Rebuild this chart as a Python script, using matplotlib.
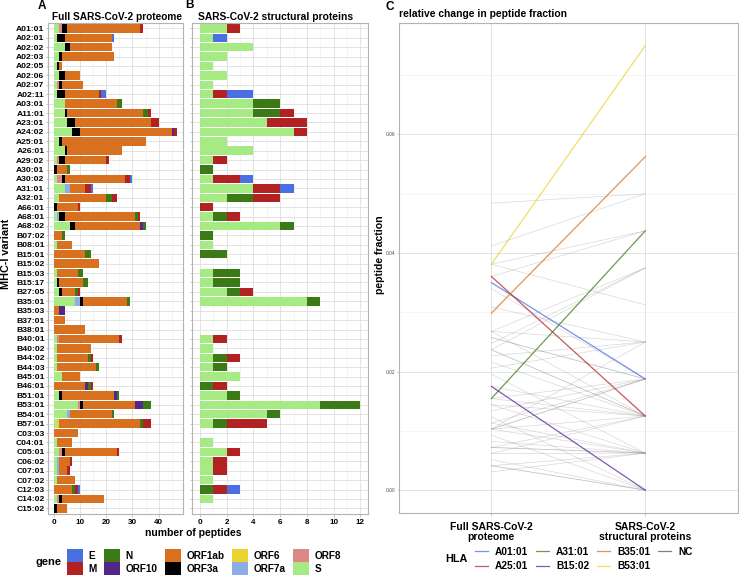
import matplotlib.pyplot as plt
import numpy as np
from matplotlib.patches import Patch
from matplotlib.lines import Line2D

plt.rcParams['font.family'] = ['Liberation Sans', 'DejaVu Sans']

# alelos HLA (orden de arriba hacia abajo)
alleles = ['A01:01', 'A02:01', 'A02:02', 'A02:03', 'A02:05', 'A02:06', 'A02:07', 'A02:11',
           'A03:01', 'A11:01', 'A23:01', 'A24:02', 'A25:01', 'A26:01', 'A29:02', 'A30:01',
           'A30:02', 'A31:01', 'A32:01', 'A66:01', 'A68:01', 'A68:02', 'B07:02', 'B08:01',
           'B15:01', 'B15:02', 'B15:03', 'B15:17', 'B27:05', 'B35:01', 'B35:03', 'B37:01',
           'B38:01', 'B40:01', 'B40:02', 'B44:02', 'B44:03', 'B45:01', 'B46:01', 'B51:01',
           'B53:01', 'B54:01', 'B57:01', 'C03:03', 'C04:01', 'C05:01', 'C06:02', 'C07:01',
           'C07:02', 'C12:03', 'C14:02', 'C15:02']

# número de péptidos por gen
S      = [2, 1, 4, 2, 1, 2, 1, 1, 4, 4, 5, 7, 2, 4, 1, 0, 1, 4, 2, 0, 1, 6, 0, 1, 0, 0,
          1, 1, 2, 8, 0, 0, 0, 1, 1, 1, 1, 3, 0, 2, 9, 5, 1, 0, 1, 2, 1, 1, 1, 0, 1, 0]
ORF8   = [1, 0, 0, 0, 0, 0, 1, 0, 0, 0, 0, 0, 0, 0, 1, 0, 2, 0, 0, 0, 0, 0, 0, 0, 0, 0,
          0, 0, 0, 0, 0, 0, 0, 1, 0, 0, 0, 0, 0, 0, 1, 0, 0, 0, 0, 1, 0, 0, 0, 0, 1, 0]
ORF7a  = [0, 0, 0, 0, 0, 0, 0, 0, 0, 0, 0, 0, 0, 0, 0, 0, 0, 2, 0, 0, 1, 0, 0, 0, 0, 0,
          0, 0, 0, 2, 0, 0, 0, 0, 0, 0, 0, 0, 0, 0, 0, 1, 0, 0, 0, 0, 1, 1, 0, 0, 0, 0]
ORF6   = [0, 0, 0, 0, 0, 0, 0, 0, 0, 0, 0, 0, 0, 0, 0, 0, 0, 0, 0, 0, 0, 0, 0, 0, 0, 0,
          0, 0, 0, 0, 0, 0, 0, 0, 0, 0, 0, 0, 0, 0, 0, 0, 1, 0, 0, 0, 0, 0, 0, 0, 0, 0]
ORF3a  = [2, 3, 2, 1, 1, 2, 1, 3, 0, 1, 3, 3, 1, 1, 2, 1, 1, 0, 0, 1, 2, 2, 0, 0, 0, 0,
          0, 1, 1, 1, 0, 0, 0, 0, 0, 0, 0, 0, 0, 1, 1, 0, 0, 0, 0, 1, 0, 0, 0, 0, 1, 1]
ORF1ab = [28, 18, 16, 20, 1, 6, 8, 13, 20, 29, 29, 35, 32, 21, 16, 4, 23, 6, 18, 8, 27, 25,
          3, 6, 12, 17, 8, 9, 5, 17, 2, 4, 12, 23, 13, 12, 15, 7, 12, 20, 20, 16, 31, 9,
          6, 20, 4, 3, 7, 7, 16, 4]
ORF10  = [0, 0, 0, 0, 0, 0, 0, 0, 0, 0, 0, 1, 0, 0, 0, 0, 0, 0, 0, 0, 0, 1, 0, 0, 0, 0,
          0, 0, 0, 0, 2, 0, 0, 0, 0, 0, 0, 0, 1, 1, 3, 0, 0, 0, 0, 0, 0, 0, 0, 0, 0, 0]
N      = [0, 0, 0, 0, 0, 0, 0, 0, 2, 2, 0, 0, 0, 0, 0, 1, 0, 0, 2, 0, 1, 1, 1, 0, 2, 0,
          2, 2, 1, 1, 0, 0, 0, 0, 0, 1, 1, 0, 1, 1, 3, 1, 1, 0, 0, 0, 0, 0, 0, 1, 0, 0]
M      = [1, 0, 0, 0, 0, 0, 0, 1, 0, 1, 3, 1, 0, 0, 1, 0, 2, 2, 2, 1, 1, 0, 0, 0, 0, 0,
          0, 0, 1, 0, 0, 0, 0, 1, 0, 1, 0, 0, 1, 0, 0, 0, 3, 0, 0, 1, 1, 1, 0, 1, 0, 0]
E      = [0, 1, 0, 0, 0, 0, 0, 2, 0, 0, 0, 0, 0, 0, 0, 0, 1, 1, 0, 0, 0, 0, 0, 0, 0, 0,
          0, 0, 0, 0, 0, 0, 0, 0, 0, 0, 0, 0, 0, 0, 0, 0, 0, 0, 0, 0, 0, 0, 0, 1, 0, 0]

counts = {'S': S, 'ORF8': ORF8, 'ORF7a': ORF7a, 'ORF6': ORF6, 'ORF3a': ORF3a,
          'ORF1ab': ORF1ab, 'ORF10': ORF10, 'N': N, 'M': M, 'E': E}
stack_order = ['S', 'ORF8', 'ORF7a', 'ORF6', 'ORF3a', 'ORF1ab', 'ORF10', 'N', 'M', 'E']
structural = ['S', 'N', 'M', 'E']
legend_genes = ['E', 'M', 'N', 'ORF10', 'ORF1ab', 'ORF3a', 'ORF6', 'ORF7a', 'ORF8', 'S']

gene_colors = {'E': '#4a6fe3', 'M': '#b22222', 'N': '#3b7a17', 'ORF10': '#55268a',
               'ORF1ab': '#d8711f', 'ORF3a': '#000000', 'ORF6': '#ebd431',
               'ORF7a': '#8cade6', 'ORF8': '#dd8888', 'S': '#a6ea84'}

highlight = ['A01:01', 'A25:01', 'A31:01', 'B15:02', 'B35:01', 'B53:01']
highlight_colors = ['#4a6fe3', '#b22222', '#3b7a17', '#55268a', '#d8711f', '#ebd431']

grid_major = '#dedede'
grid_minor = '#eeeeee'
border = '#b3b3b3'

W, H = 739, 579
fig = plt.figure(figsize=(W / 100, H / 100), dpi=100)


def fx(px):
    return px / W


def fy(py):
    return 1 - py / H


def estilo(ax):
    for s in ax.spines.values():
        s.set_color(border)
        s.set_linewidth(0.8)
    ax.set_axisbelow(True)
    ax.grid(which='major', color=grid_major, linewidth=0.6)
    ax.grid(which='minor', color=grid_minor, linewidth=0.4)
    ax.tick_params(which='major', length=1.8, width=0.5, color=border)
    ax.tick_params(which='minor', length=0)


y = np.arange(len(alleles))

# Panel A: proteoma completo
axA = fig.add_axes([fx(48), fy(514), fx(183 - 48), fy(22.7) - fy(514)])
left = np.zeros(len(alleles))
for g in stack_order:
    v = np.array(counts[g])
    axA.barh(y, v, left=left, height=0.9, color=gene_colors[g], linewidth=0)
    left += v
total_full = left.copy()
axA.set_ylim(len(alleles) - 0.4, -0.6)
axA.set_xlim(-2.35, 49.35)
axA.set_xticks([0, 10, 20, 30, 40])
axA.set_xticks([5, 15, 25, 35, 45], minor=True)
axA.set_yticks(y)
axA.set_yticklabels(alleles, fontsize=6.1, fontweight='bold')
estilo(axA)
axA.tick_params(axis='x', labelsize=5.8, pad=1.5)
axA.tick_params(axis='y', pad=0.8)
for t in axA.get_xticklabels():
    t.set_fontweight('bold')

# Panel B: proteínas estructurales
axB = fig.add_axes([fx(192), fy(514), fx(368.3 - 192), fy(22.7) - fy(514)])
left = np.zeros(len(alleles))
for g in stack_order:
    if g not in structural:
        continue
    v = np.array(counts[g])
    axB.barh(y, v, left=left, height=0.9, color=gene_colors[g], linewidth=0)
    left += v
total_struct = left.copy()
axB.set_ylim(len(alleles) - 0.4, -0.6)
axB.set_xlim(-0.6, 12.6)
axB.set_xticks(np.arange(0, 13, 2))
axB.set_xticks(np.arange(1, 13, 2), minor=True)
axB.set_yticks(y)
axB.set_yticklabels([])
estilo(axB)
axB.tick_params(axis='x', labelsize=5.8, pad=1.5)
for t in axB.get_xticklabels():
    t.set_fontweight('bold')

# Panel C: cambio relativo
axC = fig.add_axes([fx(399), fy(512.7), fx(737.7 - 399), fy(23) - fy(512.7)])
frac_full = total_full / total_full.sum()
frac_struct = total_struct / total_struct.sum()
for i, a in enumerate(alleles):
    if a in highlight:
        continue
    axC.plot([1, 2], [frac_full[i], frac_struct[i]], color='#808080', alpha=0.3, linewidth=0.5)
for a, c in zip(highlight, highlight_colors):
    i = alleles.index(a)
    axC.plot([1, 2], [frac_full[i], frac_struct[i]], color=c, alpha=0.75, linewidth=0.9)
axC.set_xlim(0.4, 2.6)
axC.set_ylim(-0.0038, 0.0788)
axC.set_xticks([1, 2])
axC.set_xticklabels(['Full SARS-CoV-2\nproteome', 'SARS-CoV-2\nstructural proteins'],
                    fontsize=7.5, fontweight='bold', linespacing=0.95)
axC.set_yticks([0, 0.02, 0.04, 0.06])
axC.set_yticklabels(['0.00', '0.02', '0.04', '0.06'])
axC.set_yticks([0.01, 0.03, 0.05, 0.07], minor=True)
estilo(axC)
axC.tick_params(axis='x', pad=5)
axC.tick_params(axis='y', labelsize=3.5, labelcolor='#4d4d4d', pad=1)

# textos
fig.text(fx(42), fy(6), 'A', fontsize=8.5, fontweight='bold', ha='center', va='center')
fig.text(fx(189), fy(5.5), 'B', fontsize=8.5, fontweight='bold', ha='center', va='center')
fig.text(fx(390), fy(7.5), 'C', fontsize=8.5, fontweight='bold', ha='center', va='center')
fig.text(fx(51.5), fy(16.5), 'Full SARS-CoV-2 proteome', fontsize=7.3, fontweight='bold',
         ha='left', va='center')
fig.text(fx(197.5), fy(16.5), 'SARS-CoV-2 structural proteins', fontsize=7.4, fontweight='bold',
         ha='left', va='center')
fig.text(fx(399), fy(14), 'relative change in peptide fraction', fontsize=7.4,
         fontweight='bold', ha='left', va='center')
fig.text(fx(6), fy(254), 'MHC-I variant', fontsize=7.8, fontweight='bold', rotation=90,
         ha='center', va='center')
fig.text(fx(380), fy(255), 'peptide fraction', fontsize=7.6, fontweight='bold', rotation=90,
         ha='center', va='center')
fig.text(fx(193), fy(533), 'number of peptides', fontsize=7.5, fontweight='bold',
         ha='center', va='center')

# leyenda de genes
fig.text(fx(48), fy(562), 'gene', fontsize=8, fontweight='bold', ha='center', va='center')
gene_handles = [Patch(facecolor=gene_colors[g], edgecolor='none') for g in legend_genes]
fig.legend(gene_handles, legend_genes, loc='center left', bbox_to_anchor=(fx(67), fy(562)),
           ncol=5, frameon=False, prop={'weight': 'bold', 'size': 7.2},
           handlelength=1.57, handleheight=1.57, handletextpad=0.53, labelspacing=0.0,
           columnspacing=0.8, borderpad=0, borderaxespad=0)

# leyenda HLA
fig.text(fx(456), fy(559), 'HLA', fontsize=7.8, fontweight='bold', ha='center', va='center')
hla_labels = highlight + ['NC']
hla_handles = [Line2D([0], [0], color=c, alpha=0.75, linewidth=0.9) for c in highlight_colors]
hla_handles.append(Line2D([0], [0], color='#808080', linewidth=0.9))
fig.legend(hla_handles, hla_labels, loc='center left', bbox_to_anchor=(fx(475), fy(559)),
           ncol=4, frameon=False, prop={'weight': 'bold', 'size': 7.3},
           handlelength=1.3, handletextpad=0.69, labelspacing=0.45,
           columnspacing=0.75, borderpad=0, borderaxespad=0)

fig.savefig('out.png', dpi=100)
